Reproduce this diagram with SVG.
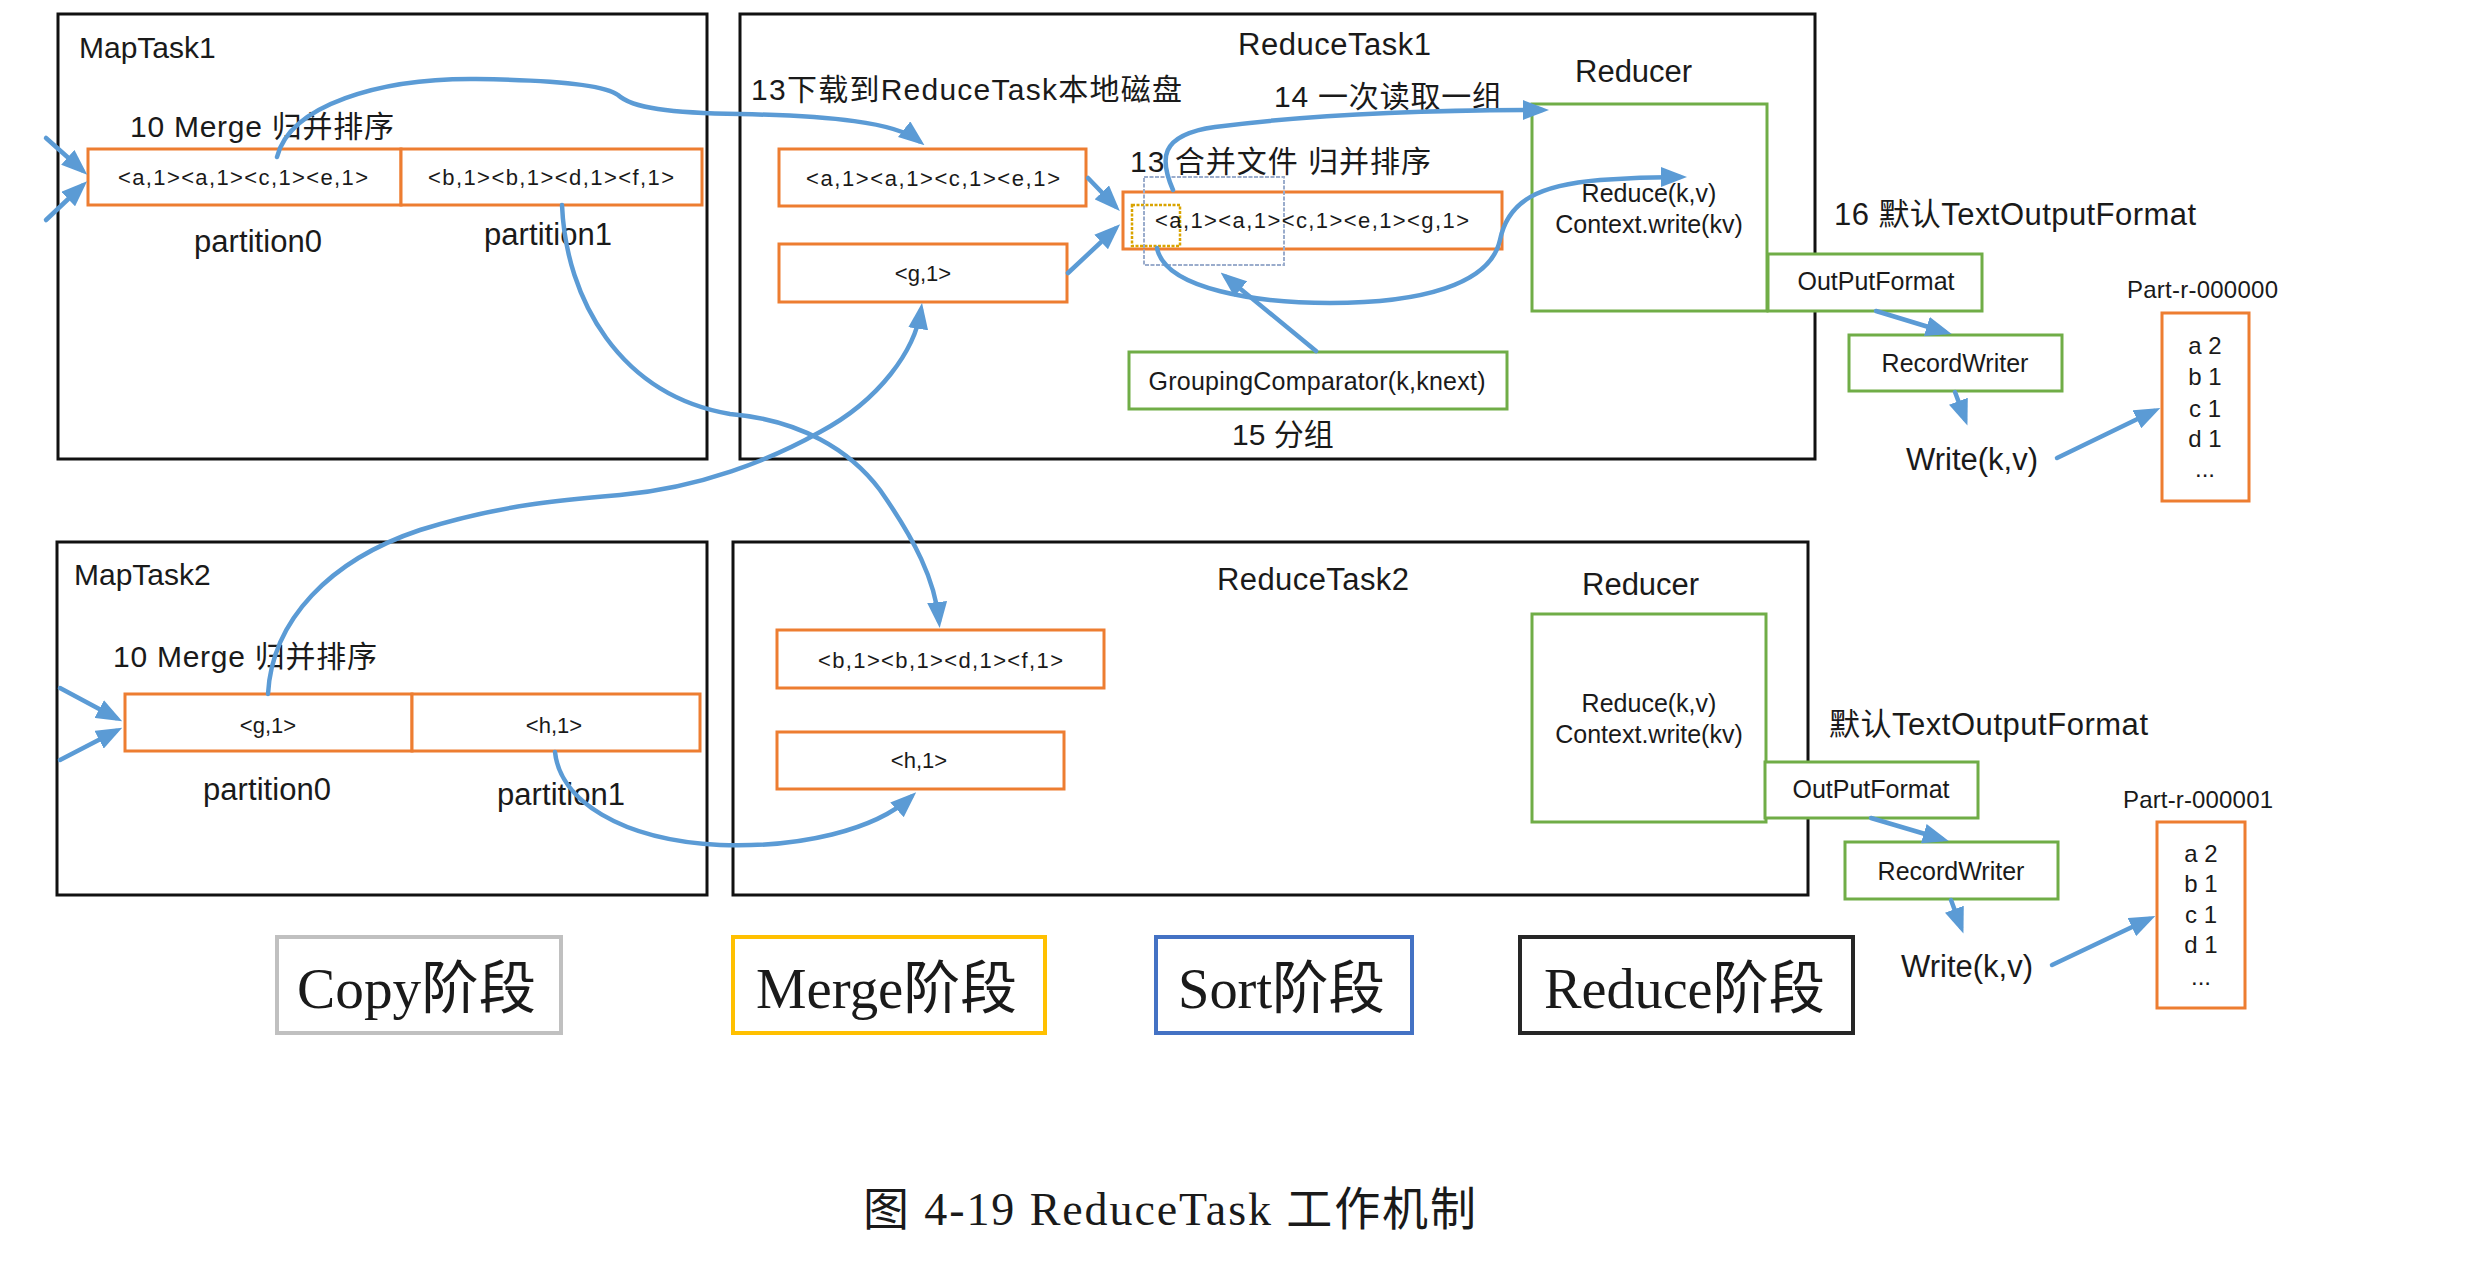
<svg xmlns="http://www.w3.org/2000/svg" width="2480" height="1276" viewBox="0 0 2480 1276">
<defs>
<marker id="ah" viewBox="0 0 26 20" refX="19" refY="10" markerWidth="26" markerHeight="20" markerUnits="userSpaceOnUse" orient="auto">
<path d="M0,0 L26,10 L0,20 z" fill="#5b9bd5"/>
</marker>
</defs>
<style>
text{font-family:"Liberation Sans","Noto Sans CJK SC",sans-serif;fill:#1a1a1a}
.t30{font-size:30px}
.t31{font-size:31px}
.t25{font-size:25px}
.t24{font-size:24px}
.kv{font-size:22px}
.mid{text-anchor:middle}
.task{fill:#fff;stroke:#111;stroke-width:3}
.ob{fill:#fff;stroke:#ed7d31;stroke-width:3}
.gb{fill:#fff;stroke:#70ad47;stroke-width:3}
.con{fill:none;stroke:#5b9bd5;stroke-width:4.5;stroke-linecap:round}
.arr{marker-end:url(#ah)}
.leg{font-family:"Liberation Serif","Noto Sans CJK SC",serif;font-size:57px}
.cap{font-family:"Liberation Serif","Noto Sans CJK SC",serif;font-size:46px}
</style>
<rect width="2480" height="1276" fill="#fff"/>

<g id="maptask1">
<rect class="task" x="58" y="14" width="649" height="445"/>
<text class="t30" x="79" y="58">MapTask1</text>
<text class="t30" x="130" y="137" textLength="264" lengthAdjust="spacing">10 Merge 归并排序</text>
<rect class="ob" x="88" y="149" width="313" height="56"/>
<rect class="ob" x="401" y="149" width="301" height="56"/>
<text class="kv" x="118" y="185" textLength="250" lengthAdjust="spacing">&lt;a,1&gt;&lt;a,1&gt;&lt;c,1&gt;&lt;e,1&gt;</text>
<text class="kv" x="428" y="185" textLength="246" lengthAdjust="spacing">&lt;b,1&gt;&lt;b,1&gt;&lt;d,1&gt;&lt;f,1&gt;</text>
<text class="t31" x="194" y="252" textLength="128" lengthAdjust="spacing">partition0</text>
<text class="t31" x="484" y="245" textLength="128" lengthAdjust="spacing">partition1</text>
</g>

<g id="maptask2">
<rect class="task" x="57" y="542" width="650" height="353"/>
<text class="t30" x="74" y="585">MapTask2</text>
<text class="t30" x="113" y="667" textLength="264" lengthAdjust="spacing">10 Merge 归并排序</text>
<rect class="ob" x="125" y="694" width="287" height="57"/>
<rect class="ob" x="412" y="694" width="288" height="57"/>
<text class="kv mid" x="268" y="733">&lt;g,1&gt;</text>
<text class="kv mid" x="554" y="733">&lt;h,1&gt;</text>
<text class="t31" x="203" y="800" textLength="128" lengthAdjust="spacing">partition0</text>
<text class="t31" x="497" y="805" textLength="128" lengthAdjust="spacing">partition1</text>
</g>

<g id="reducetask1">
<rect class="task" x="740" y="14" width="1075" height="445"/>
<text class="t31" x="1238" y="55" textLength="193" lengthAdjust="spacing">ReduceTask1</text>
<text class="t30" x="751" y="100" textLength="431" lengthAdjust="spacing">13下载到ReduceTask本地磁盘</text>
<text class="t30" x="1274" y="107" textLength="228" lengthAdjust="spacing">14 一次读取一组</text>
<text class="t30" x="1130" y="172" textLength="301" lengthAdjust="spacing">13 合并文件 归并排序</text>
<rect class="ob" x="779" y="149" width="307" height="57"/>
<text class="kv" x="806" y="186" textLength="254" lengthAdjust="spacing">&lt;a,1&gt;&lt;a,1&gt;&lt;c,1&gt;&lt;e,1&gt;</text>
<rect class="ob" x="779" y="244" width="288" height="58"/>
<text class="kv mid" x="923" y="281">&lt;g,1&gt;</text>
<rect class="ob" x="1123" y="192" width="379" height="57"/>
<rect x="1132" y="205" width="48" height="41" fill="none" stroke="#d9a400" stroke-width="2.5" stroke-dasharray="3 1.5"/>
<rect x="1144" y="177" width="140" height="88" fill="none" stroke="#9aaccc" stroke-width="2" stroke-dasharray="4 1.5"/>
<text class="kv" x="1155" y="228" textLength="314" lengthAdjust="spacing">&lt;a,1&gt;&lt;a,1&gt;&lt;c,1&gt;&lt;e,1&gt;&lt;g,1&gt;</text>
<rect class="gb" x="1129" y="352" width="378" height="57"/>
<text class="t25 mid" x="1317" y="390" textLength="337" lengthAdjust="spacing">GroupingComparator(k,knext)</text>
<text class="t30" x="1232" y="445">15 分组</text>
</g>

<g id="reducer1">
<text class="t31" x="1575" y="82">Reducer</text>
<rect class="gb" x="1532" y="104" width="235" height="207"/>
<text class="t25 mid" x="1649" y="202">Reduce(k,v)</text>
<text class="t25 mid" x="1649" y="233">Context.write(kv)</text>
</g>

<g id="output1">
<text class="t31" x="1834" y="225" textLength="362" lengthAdjust="spacing">16 默认TextOutputFormat</text>
<rect class="gb" x="1768" y="254" width="214" height="57"/>
<text class="t25 mid" x="1876" y="290">OutPutFormat</text>
<rect class="gb" x="1849" y="335" width="213" height="56"/>
<text class="t25 mid" x="1955" y="372">RecordWriter</text>
<text class="t31" x="1906" y="470">Write(k,v)</text>
<text class="t24" x="2127" y="298" textLength="151" lengthAdjust="spacing">Part-r-000000</text>
<rect class="ob" x="2162" y="313" width="87" height="188"/>
<text class="t24 mid" x="2205" y="354">a 2</text>
<text class="t24 mid" x="2205" y="385">b 1</text>
<text class="t24 mid" x="2205" y="417">c 1</text>
<text class="t24 mid" x="2205" y="447">d 1</text>
<text class="t24 mid" x="2205" y="477">...</text>
</g>

<g id="reducetask2">
<rect class="task" x="733" y="542" width="1075" height="353"/>
<text class="t31" x="1217" y="590" textLength="192" lengthAdjust="spacing">ReduceTask2</text>
<rect class="ob" x="777" y="630" width="327" height="58"/>
<text class="kv" x="818" y="668" textLength="245" lengthAdjust="spacing">&lt;b,1&gt;&lt;b,1&gt;&lt;d,1&gt;&lt;f,1&gt;</text>
<rect class="ob" x="777" y="732" width="287" height="57"/>
<text class="kv mid" x="919" y="768">&lt;h,1&gt;</text>
</g>

<g id="reducer2">
<text class="t31" x="1582" y="595">Reducer</text>
<rect class="gb" x="1532" y="614" width="234" height="208"/>
<text class="t25 mid" x="1649" y="712">Reduce(k,v)</text>
<text class="t25 mid" x="1649" y="743">Context.write(kv)</text>
</g>

<g id="output2">
<text class="t31" x="1829" y="735" textLength="319" lengthAdjust="spacing">默认TextOutputFormat</text>
<rect class="gb" x="1765" y="762" width="213" height="56"/>
<text class="t25 mid" x="1871" y="798">OutPutFormat</text>
<rect class="gb" x="1845" y="842" width="213" height="57"/>
<text class="t25 mid" x="1951" y="880">RecordWriter</text>
<text class="t31" x="1901" y="977">Write(k,v)</text>
<text class="t24" x="2123" y="808" textLength="150" lengthAdjust="spacing">Part-r-000001</text>
<rect class="ob" x="2157" y="822" width="88" height="186"/>
<text class="t24 mid" x="2201" y="862">a 2</text>
<text class="t24 mid" x="2201" y="892">b 1</text>
<text class="t24 mid" x="2201" y="923">c 1</text>
<text class="t24 mid" x="2201" y="953">d 1</text>
<text class="t24 mid" x="2201" y="985">...</text>
</g>

<g id="connectors">
<path class="con arr" d="M46,138 L82,170"/>
<path class="con arr" d="M46,220 L82,186"/>
<path class="con arr" d="M60,688 L116,718"/>
<path class="con arr" d="M60,760 L116,731"/>
<path class="con arr" d="M277,157 C290,105 380,78 476,79 C560,80 605,85 618,95 C632,108 670,113 740,114 C830,116 895,122 919,141"/>
<path class="con arr" d="M562,205 C566,300 620,395 730,414 C800,420 850,450 880,490 C915,540 935,580 939,621"/>
<path class="con arr" d="M268,694 C272,620 330,560 420,530 C500,505 560,500 620,495 C700,488 770,460 820,432 C880,400 915,350 921,310"/>
<path class="con arr" d="M555,752 C560,800 620,840 720,845 C800,848 875,830 911,797"/>
<path class="con arr" d="M1088,178 L1115,206"/>
<path class="con arr" d="M1068,273 L1115,229"/>
<path class="con arr" d="M1173,190 C1160,160 1158,135 1215,127 C1330,112 1450,110 1542,110"/>
<path class="con arr" d="M1157,248 C1165,290 1260,303 1330,303 C1420,303 1490,285 1500,240 C1508,200 1540,185 1600,180 C1640,177 1660,177 1680,177"/>
<path class="con arr" d="M1316,351 L1226,277"/>
<path class="con arr" d="M1876,311 L1945,332"/>
<path class="con arr" d="M1955,392 L1965,419"/>
<path class="con arr" d="M2057,458 L2154,411"/>
<path class="con arr" d="M1871,818 L1942,839"/>
<path class="con arr" d="M1951,900 L1961,927"/>
<path class="con arr" d="M2052,965 L2149,919"/>
</g>

<g id="legend">
<rect x="277" y="937" width="284" height="96" fill="#fff" stroke="#c0c0c0" stroke-width="4"/>
<text class="leg" x="297" y="1008" textLength="239" lengthAdjust="spacingAndGlyphs">Copy阶段</text>
<rect x="733" y="937" width="312" height="96" fill="#fff" stroke="#ffc000" stroke-width="4"/>
<text class="leg" x="756" y="1008" textLength="261" lengthAdjust="spacingAndGlyphs">Merge阶段</text>
<rect x="1156" y="937" width="256" height="96" fill="#fff" stroke="#4472c4" stroke-width="4"/>
<text class="leg" x="1178" y="1008" textLength="207" lengthAdjust="spacingAndGlyphs">Sort阶段</text>
<rect x="1520" y="937" width="333" height="96" fill="#fff" stroke="#262626" stroke-width="4"/>
<text class="leg" x="1544" y="1008" textLength="281" lengthAdjust="spacingAndGlyphs">Reduce阶段</text>
</g>

<g id="caption">
<text class="cap" x="863" y="1225" textLength="613" lengthAdjust="spacing">图 4-19 ReduceTask 工作机制</text>
</g>
</svg>
